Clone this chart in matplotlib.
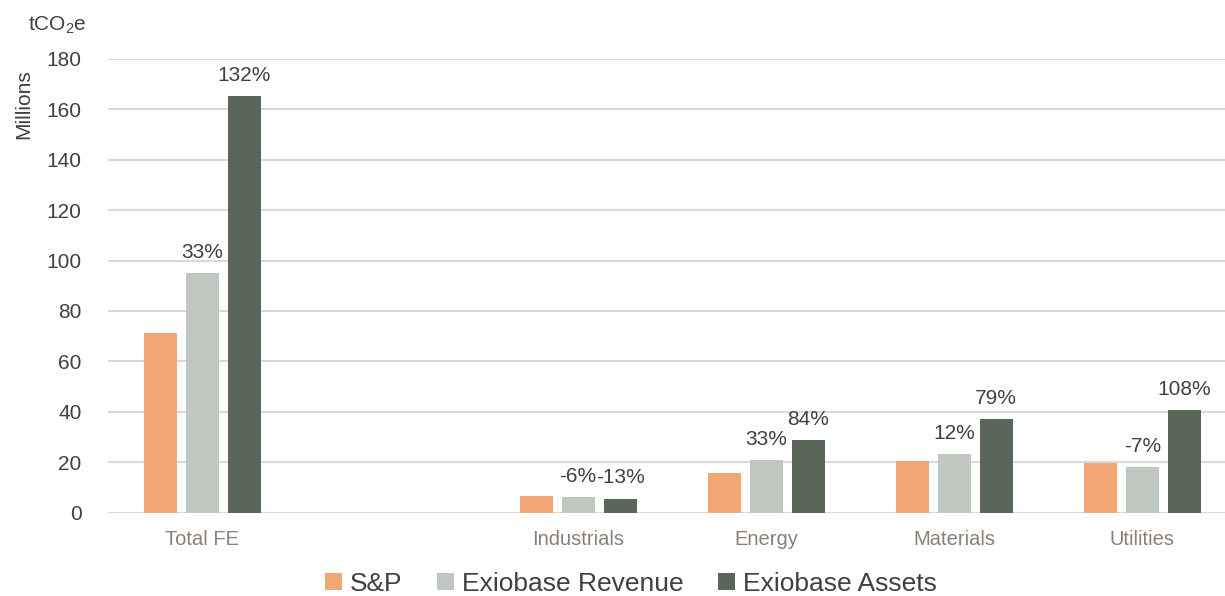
import matplotlib

matplotlib.use("Agg")

import matplotlib.pyplot as plt  # noqa: E402
import numpy as np  # noqa: E402
from matplotlib.patches import Patch  # noqa: E402

plt.rcParams["font.family"] = ["Liberation Sans", "DejaVu Sans"]
plt.rcParams["mathtext.default"] = "regular"

categories = ["Total FE", "", "Industrials", "Energy", "Materials", "Utilities"]
series_names = ["S&P", "Exiobase Revenue", "Exiobase Assets"]
sp_values = [71.2, np.nan, 6.6, 15.7, 20.6, 19.6]
revenue_values = [95.0, np.nan, 6.3, 20.8, 23.2, 18.3]
assets_values = [165.2, np.nan, 5.7, 28.9, 37.1, 40.8]
revenue_labels = ["33%", "", "-6%", "33%", "12%", "-7%"]
assets_labels = ["132%", "", "-13%", "84%", "79%", "108%"]
y_ticks = [0, 20, 40, 60, 80, 100, 120, 140, 160, 180]

COLORS = ["#F2A874", "#C0C7C0", "#5B665A"]
TEXT_DARK = "#404040"
TEXT_CAT = "#8A8079"
GRID = "#D9D9D9"

fig = plt.figure(figsize=(12.25, 5.96), dpi=100)
ax = fig.add_axes([0.0882, 0.1393, 0.9118, 0.7625])

x = np.arange(len(categories))
width = 0.1755
step = 0.2234
series = [sp_values, revenue_values, assets_values]
bar_sets = []
for i, (vals, color) in enumerate(zip(series, COLORS)):
    bars = ax.bar(x + (i - 1) * step, vals, width, color=color, zorder=3)
    bar_sets.append(bars)

# percentage change vs S&P, drawn above the Exiobase bars
for bars, labels in ((bar_sets[1], revenue_labels), (bar_sets[2], assets_labels)):
    for bar, label in zip(bars, labels):
        if not label:
            continue
        ax.annotate(label, (bar.get_x() + bar.get_width() / 2, bar.get_height()),
                    xytext=(0, 8), textcoords="offset points", ha="center", va="bottom",
                    fontsize=15, color=TEXT_DARK)

ax.set_xlim(-0.5, 5.44)
ax.set_ylim(0, 180)
ax.set_yticks(y_ticks)
ax.set_xticks(x)
ax.set_xticklabels(categories)
ax.tick_params(axis="y", length=0, pad=19, labelsize=15, labelcolor=TEXT_DARK)
ax.tick_params(axis="x", length=0, pad=12, labelsize=14.5, labelcolor=TEXT_CAT)
ax.yaxis.grid(True, color=GRID, linewidth=1.5, zorder=0)
ax.set_axisbelow(True)
for spine in ax.spines.values():
    spine.set_visible(False)

fig.text(0.023, 0.975, r"tCO$_2$e", fontsize=15, color=TEXT_DARK, ha="left", va="top")
fig.text(0.0196, 0.825, "Millions", fontsize=15, color=TEXT_DARK, rotation=90,
         ha="center", va="center")

handles = [Patch(facecolor=c, edgecolor="none") for c in COLORS]
fig.legend(handles, series_names, loc="center", bbox_to_anchor=(0.515, 0.02),
           ncol=3, frameon=False, fontsize=19, labelcolor=TEXT_DARK,
           handlelength=0.65, handleheight=0.6, handletextpad=0.3, columnspacing=1.3,
           borderpad=0)

fig.savefig("out.png", dpi=100)
